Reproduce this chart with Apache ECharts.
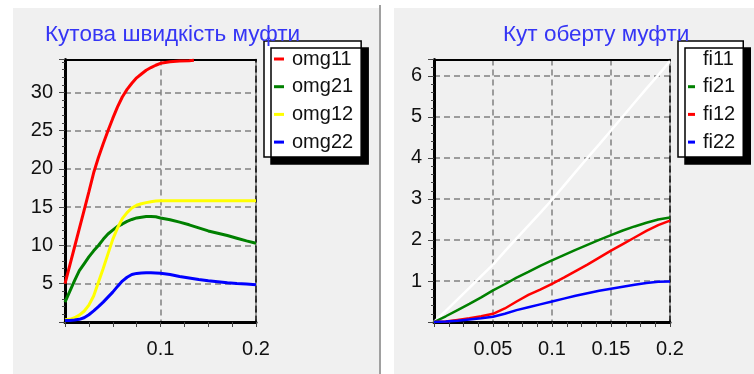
<!DOCTYPE html>
<html>
<head>
<meta charset="utf-8">
<script src="https://cdn.jsdelivr.net/npm/echarts@6/dist/echarts.min.js"></script>
<style>
  html, body { margin: 0; padding: 0; background: #fff; }
  #chart { width: 754px; height: 374px; }
</style>
</head>
<body>
<div id="chart"></div>
<script>
// left chart: angular speed of the coupling
var tLeft = [0, 0.005, 0.01, 0.015, 0.02, 0.025, 0.03, 0.035, 0.04, 0.045, 0.05, 0.055, 0.06, 0.065, 0.07, 0.075,
  0.08, 0.085, 0.09, 0.095, 0.1, 0.11, 0.12, 0.13, 0.135, 0.14, 0.15, 0.16, 0.17, 0.18, 0.19, 0.2];
var omg11 = [5.0, 7.4, 9.8, 12.2, 14.6, 17.0, 19.5, 21.5, 23.3, 25.0, 26.6, 28.1, 29.4, 30.4, 31.2, 31.9,
  32.4, 32.9, 33.25, 33.55, 33.8, 34.0, 34.1, 34.15, 34.2, null, null, null, null, null, null, null];
var omg21 = [2.6, 4.0, 5.4, 6.7, 7.6, 8.5, 9.3, 10.0, 10.8, 11.5, 12.0, 12.5, 12.8, 13.15, 13.4, 13.6,
  13.7, 13.78, 13.8, 13.75, 13.6, 13.35, 13.05, 12.7, 12.5, 12.3, 11.9, 11.6, 11.3, 10.95, 10.6, 10.3];
var omg12 = [0.3, 0.35, 0.55, 0.9, 1.4, 2.2, 3.4, 5.2, 7.0, 8.9, 10.8, 12.3, 13.5, 14.3, 14.9, 15.25,
  15.45, 15.6, 15.72, 15.8, 15.85, 15.85, 15.85, 15.85, 15.85, 15.85, 15.85, 15.85, 15.85, 15.85, 15.85, 15.85];
var omg22 = [0.2, 0.2, 0.25, 0.35, 0.55, 0.95, 1.45, 2.0, 2.6, 3.25, 3.9, 4.65, 5.35, 5.85, 6.2, 6.35,
  6.4, 6.42, 6.42, 6.4, 6.38, 6.2, 5.95, 5.75, 5.65, 5.55, 5.38, 5.25, 5.12, 5.02, 4.95, 4.87];

// right chart: rotation angle of the coupling
var tRight = [0, 0.01, 0.02, 0.03, 0.04, 0.05, 0.06, 0.07, 0.08, 0.09, 0.1,
  0.11, 0.12, 0.13, 0.14, 0.15, 0.16, 0.17, 0.18, 0.19, 0.2];
var fi11 = [0, 0.27, 0.55, 0.83, 1.12, 1.40, 1.72, 2.04, 2.35, 2.66, 2.98,
  3.32, 3.66, 4.0, 4.33, 4.67, 5.01, 5.35, 5.69, 6.02, 6.36];
var fi21 = [0, 0.14, 0.29, 0.44, 0.60, 0.77, 0.92, 1.08, 1.22, 1.37, 1.50,
  1.63, 1.76, 1.88, 2.0, 2.12, 2.23, 2.33, 2.42, 2.50, 2.55];
var fi12 = [0, 0.01, 0.05, 0.09, 0.14, 0.20, 0.33, 0.50, 0.66, 0.79, 0.93,
  1.08, 1.24, 1.40, 1.57, 1.74, 1.90, 2.06, 2.22, 2.36, 2.47];
var fi22 = [0, 0.01, 0.03, 0.06, 0.09, 0.13, 0.20, 0.29, 0.36, 0.43, 0.50,
  0.57, 0.64, 0.70, 0.76, 0.81, 0.86, 0.91, 0.95, 0.98, 0.99];

var leftTicks = [5, 10, 15, 20, 25, 30];
var rightTicks = [1, 2, 3, 4, 5, 6];

var fontFamily = 'Liberation Sans, Arial, sans-serif';
var textColor = '#111';

function pairs(t, v) {
  var out = [];
  for (var i = 0; i < t.length; i++) {
    if (v[i] !== null) out.push([t[i], v[i]]);
  }
  return out;
}

function lineSeries(name, t, v, color, width, idx) {
  return {
    type: 'line',
    name: name,
    xAxisIndex: idx,
    yAxisIndex: idx * 2,
    data: pairs(t, v),
    showSymbol: false,
    symbol: 'none',
    color: color,
    lineStyle: { color: color, width: width }
  };
}

function mainX(gridIndex, max, interval) {
  return {
    type: 'value',
    gridIndex: gridIndex,
    min: 0,
    max: max,
    interval: interval,
    axisLine: { onZero: false, lineStyle: { color: '#000', width: 3 } },
    axisTick: { length: 5, lineStyle: { color: '#444', width: 1 } },
    minorTick: { show: true, splitNumber: 4, length: 5, lineStyle: { color: '#444', width: 1 } },
    splitLine: { show: true, lineStyle: { color: '#808080', width: 1.5, type: [6, 4] } },
    axisLabel: {
      showMinLabel: false,
      margin: 17,
      fontFamily: fontFamily,
      fontSize: 20,
      color: textColor
    }
  };
}

function mainY(gridIndex, max, ticks) {
  return {
    type: 'value',
    gridIndex: gridIndex,
    min: 0,
    max: max,
    interval: ticks[1] - ticks[0],
    axisLine: { show: true, onZero: false, lineStyle: { color: '#000', width: 3 } },
    axisTick: { show: true, length: 6, lineStyle: { color: '#444', width: 1 } },
    minorTick: { show: true, splitNumber: 5, length: 3, lineStyle: { color: '#444', width: 1 } },
    splitLine: { show: true, lineStyle: { color: '#808080', width: 1.5, type: [6, 4] } },
    axisLabel: {
      showMinLabel: false,
      showMaxLabel: false,
      margin: 12,
      fontFamily: fontFamily,
      fontSize: 20,
      color: textColor,
      formatter: function (v) { return ticks.indexOf(v) >= 0 ? String(v) : ''; }
    }
  };
}

function topX(gridIndex, max) {
  return {
    type: 'value', gridIndex: gridIndex, position: 'top', min: 0, max: max,
    axisLine: { show: true, onZero: false, lineStyle: { color: '#000', width: 2 } },
    axisTick: { show: false }, axisLabel: { show: false }, splitLine: { show: false }
  };
}

function rightY(gridIndex, max) {
  return {
    type: 'value', gridIndex: gridIndex, position: 'right', min: 0, max: max,
    axisLine: { show: true, onZero: false, lineStyle: { color: '#000', width: 1.5, type: [6, 4] } },
    axisTick: { show: false }, axisLabel: { show: false }, splitLine: { show: false }
  };
}

function legendBox(left, data, iconWidth) {
  return {
    left: left,
    top: 41,
    orient: 'vertical',
    data: data,
    icon: 'rect',
    itemWidth: iconWidth,
    itemHeight: 3,
    itemGap: 7.7,
    padding: [8, 8, 5, 10],
    backgroundColor: '#fff',
    borderColor: '#000',
    borderWidth: 1.5,
    shadowColor: '#000',
    shadowBlur: 0,
    shadowOffsetX: 7,
    shadowOffsetY: 7,
    selectedMode: false,
    textStyle: { fontFamily: fontFamily, fontSize: 20, color: textColor, padding: [0, 0, 0, 3] }
  };
}

var chart = echarts.init(document.getElementById('chart'));
var option = {
  animation: false,
  backgroundColor: '#fff',
  graphic: [
    { type: 'rect', z: -10, shape: { x: 13, y: 8, width: 366, height: 366 }, style: { fill: '#f0f0f0' } },
    { type: 'rect', z: -10, shape: { x: 394, y: 8, width: 360, height: 366 }, style: { fill: '#f0f0f0' } },
    { type: 'rect', z: -10, shape: { x: 379, y: 5, width: 2, height: 369 }, style: { fill: '#a0a0a0' } }
  ],
  title: [
    { text: 'Кутова швидкість муфти', left: 45, top: 23, padding: 0,
      textStyle: { fontFamily: fontFamily, fontSize: 22.5, fontWeight: 'normal', color: '#3535f5' } },
    { text: 'Кут оберту муфти', left: 503, top: 23, padding: 0,
      textStyle: { fontFamily: fontFamily, fontSize: 22.5, fontWeight: 'normal', color: '#3535f5' } }
  ],
  legend: [
    legendBox(264, ['omg11', 'omg21', 'omg12', 'omg22'], 10),
    legendBox(678, ['fi11', 'fi21', 'fi12', 'fi22'], 7)
  ],
  grid: [
    { left: 65, top: 59.5, width: 191, height: 262.5 },
    { left: 434, top: 59.5, width: 236, height: 262.5 }
  ],
  xAxis: [
    mainX(0, 0.2, 0.1),
    mainX(1, 0.2, 0.05),
    topX(0, 0.2),
    topX(1, 0.2)
  ],
  yAxis: [
    mainY(0, 34.3, leftTicks),
    rightY(0, 34.3),
    mainY(1, 6.4, rightTicks),
    rightY(1, 6.4)
  ],
  series: [
    lineSeries('omg11', tLeft, omg11, '#ff0000', 3, 0),
    lineSeries('omg21', tLeft, omg21, '#008000', 3, 0),
    lineSeries('omg12', tLeft, omg12, '#ffff00', 3, 0),
    lineSeries('omg22', tLeft, omg22, '#0000ff', 3, 0),
    lineSeries('fi11', tRight, fi11, '#ffffff', 2.5, 1),
    lineSeries('fi21', tRight, fi21, '#008000', 2.5, 1),
    lineSeries('fi12', tRight, fi12, '#ff0000', 2.5, 1),
    lineSeries('fi22', tRight, fi22, '#0000ff', 2.5, 1)
  ]
};
chart.setOption(option, true);
</script>
</body>
</html>
